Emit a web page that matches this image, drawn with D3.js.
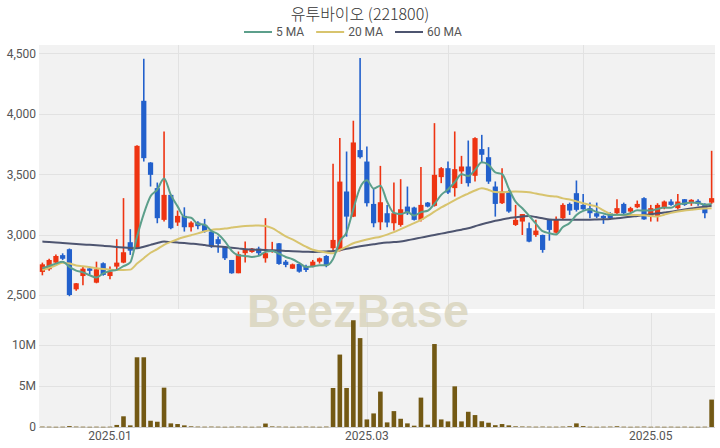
<!DOCTYPE html>
<html><head><meta charset="utf-8">
<script src="https://cdn.jsdelivr.net/npm/d3@7"></script>
<style>body{margin:0;background:#fff}svg{display:block}</style>
</head><body><svg id="c" width="720" height="448"></svg>
<script>
const title = "유투바이오 (221800)";
const dates = [
"2024-12-16","2024-12-17","2024-12-18","2024-12-19","2024-12-20","2024-12-23","2024-12-24","2024-12-26","2024-12-27","2024-12-30",
"2025-01-02","2025-01-03","2025-01-06","2025-01-07","2025-01-08","2025-01-09","2025-01-10","2025-01-13","2025-01-14","2025-01-15",
"2025-01-16","2025-01-17","2025-01-20","2025-01-21","2025-01-22","2025-01-23","2025-01-24","2025-01-31",
"2025-02-03","2025-02-04","2025-02-05","2025-02-06","2025-02-07","2025-02-10","2025-02-11","2025-02-12","2025-02-13","2025-02-14",
"2025-02-17","2025-02-18","2025-02-19","2025-02-20","2025-02-21","2025-02-24","2025-02-25","2025-02-26","2025-02-27","2025-02-28",
"2025-03-04","2025-03-05","2025-03-06","2025-03-07","2025-03-10","2025-03-11","2025-03-12","2025-03-13","2025-03-14","2025-03-17",
"2025-03-18","2025-03-19","2025-03-20","2025-03-21","2025-03-24","2025-03-25","2025-03-26","2025-03-27","2025-03-28","2025-03-31",
"2025-04-01","2025-04-02","2025-04-03","2025-04-04","2025-04-07","2025-04-08","2025-04-09","2025-04-10","2025-04-11","2025-04-14",
"2025-04-15","2025-04-16","2025-04-17","2025-04-18","2025-04-21","2025-04-22","2025-04-23","2025-04-24","2025-04-25","2025-04-28",
"2025-04-29","2025-04-30","2025-05-02","2025-05-07","2025-05-08","2025-05-09","2025-05-12","2025-05-13","2025-05-14","2025-05-15",
"2025-05-16","2025-05-19"];
const opens = [2691,2713,2768,2830,2879,2547,2657,2720,2602,2763,2657,2735,2768,2937,2887,4108,3597,3385,3122,3329,
3100,3155,3061,3100,3080,3025,2962,2900,2790,2680,2846,2856,2884,2804,2856,2928,2776,2718,2757,2740,
2740,2776,2823,2887,2867,3357,3149,3700,3605,3254,3102,3177,3094,3080,3232,3224,3122,3265,3238,3476,
3550,3385,3523,3564,3487,3708,3641,3398,3260,3357,3080,3108,3053,2997,2997,3122,3016,3136,3254,3343,
3246,3219,3177,3155,3177,3177,3254,3191,3226,3302,3149,3149,3219,3274,3219,3293,3260,3280,3254,3265];
const highs = [2768,2800,2835,2845,2885,2600,2735,2735,2776,2770,2735,2962,3302,3045,3740,4456,3600,3431,3854,3330,
3199,3226,3110,3110,3130,3030,2985,2905,2790,2860,2942,2890,2900,3136,2940,2930,2790,2760,2760,2750,
2790,2810,2830,3586,3799,3688,3943,4462,3729,3380,3569,3246,3431,3459,3398,3230,3559,3270,3923,3559,
3605,3854,3652,3779,3807,3826,3724,3440,3550,3370,3246,3170,3100,3122,3000,3125,3150,3260,3265,3448,
3337,3265,3265,3160,3185,3293,3265,3230,3282,3310,3246,3260,3282,3293,3337,3295,3293,3293,3260,3694];
const lows = [2663,2700,2760,2790,2490,2535,2580,2670,2597,2660,2630,2707,2763,2832,2880,3605,3398,3094,3108,3045,
3072,3025,3025,3045,3016,2890,2850,2790,2676,2680,2768,2850,2830,2768,2850,2750,2730,2715,2685,2690,
2730,2760,2730,2860,2860,2983,3145,3630,3232,3061,3039,3061,3033,3066,3163,3116,3108,3226,3232,3426,
3337,3315,3420,3398,3440,3592,3420,3149,3254,3182,3072,2997,2937,2983,2850,2950,3010,3130,3163,3191,
3205,3136,3136,3089,3122,3163,3163,3177,3219,3122,3108,3108,3210,3238,3210,3238,3238,3238,3136,3254];
const closes = [2754,2790,2823,2800,2500,2597,2718,2700,2713,2666,2693,2768,2854,2867,3735,3633,3495,3136,3329,3053,
3155,3061,3100,3070,3025,2900,2923,2804,2680,2837,2873,2884,2846,2846,2873,2757,2749,2754,2693,2707,
2776,2804,2749,2956,3439,3149,3763,3641,3260,3094,3268,3100,3177,3210,3177,3122,3246,3232,3495,3550,
3348,3542,3564,3426,3799,3661,3439,3254,3357,3191,3122,3170,2942,3033,2873,3039,3122,3246,3199,3205,
3210,3177,3149,3136,3136,3219,3177,3219,3254,3126,3219,3246,3274,3246,3274,3246,3288,3254,3177,3302];
const volumes = [50000,40000,30000,40000,110000,50000,40000,30000,40000,30000,40000,250000,1300000,200000,8470000,8470000,760000,640000,4780000,440000,
360000,200000,80000,50000,40000,50000,40000,30000,40000,50000,40000,30000,40000,420000,70000,50000,40000,30000,40000,50000,
40000,30000,50000,4740000,8800000,4740000,12970000,10800000,920000,1650000,4300000,560000,1930000,1000000,440000,160000,3570000,280000,10080000,920000,
680000,4940000,680000,1850000,1450000,700000,520000,220000,360000,200000,80000,60000,50000,40000,50000,40000,40000,50000,90000,440000,
110000,40000,30000,40000,50000,90000,40000,30000,40000,50000,30000,40000,30000,40000,30000,40000,30000,30000,40000,3330000];
const ma5Lead = [2721,2740,2760,2776];
const ma20 = [2707,2725,2745,2768,2760,2745,2738,2730,2722,2715,2710,2707,2707,2710,2760,2805,2850,2880,2915,2940,
2962,2980,2995,3010,3028,3039,3045,3050,3058,3066,3072,3074,3075,3072,3053,3020,2985,2960,2930,2900,
2875,2862,2852,2846,2873,2900,2928,2945,2960,2972,2983,3000,3020,3045,3070,3095,3122,3155,3190,3225,
3255,3285,3315,3340,3365,3384,3370,3352,3350,3355,3357,3355,3350,3340,3330,3320,3315,3300,3290,3275,
3260,3245,3232,3200,3172,3163,3163,3163,3163,3160,3155,3150,3165,3180,3191,3200,3206,3212,3216,3219];
const ma60 = [2942,2938,2935,2931,2927,2923,2919,2915,2911,2907,2903,2898,2893,2889,2887,2900,2915,2930,2942,2938,
2934,2930,2925,2920,2913,2906,2902,2897,2892,2886,2879,2877,2874,2872,2870,2868,2865,2862,2860,2858,
2856,2858,2861,2864,2872,2882,2893,2903,2912,2920,2928,2934,2938,2942,2953,2964,2975,2986,2997,3008,
3019,3030,3041,3053,3069,3086,3100,3114,3125,3136,3143,3150,3155,3145,3135,3125,3122,3122,3122,3122,
3123,3124,3125,3127,3130,3136,3141,3147,3155,3162,3169,3176,3183,3190,3199,3208,3216,3224,3231,3238];
const priceTicks = [2500,3000,3500,4000,4500];
const volumeTicks = [0,5000000,10000000];
const volumeTickLabels = ["0","5M","10M"];
const xTickDates = ["2025-01-02","2025-03-04","2025-05-02"];
const xTickLabels = ["2025.01","2025.03","2025.05"];
const legendLabels = ["5 MA","20 MA","60 MA"];

const ma5 = closes.map((c,i)=> i<4 ? ma5Lead[i] : d3.mean(closes.slice(i-4,i+1)));

const svg = d3.select("#c");
const xL=39, xR=715, pTop=45, pBot=309, vTop=313, vBot=428;
const C = {up:"#ee3412", down:"#2260cc", ma5:"#5c9f8b", ma20:"#d8c46e", ma60:"#4e5570", vol:"#735914", bg:"#f2f2f2", grid:"#e2e2e2"};
const font = "Roboto, 'Noto Sans', sans-serif";

const x = d3.scaleBand().domain(dates).range([xL,xR]);
const cx = d => x(d)+x.bandwidth()/2;
const yP = d3.scaleLinear().domain([2384,4570]).range([pBot,pTop]);
const yV = d3.scaleLinear().domain([0,13.85e6]).range([427,vTop]);

// backgrounds
svg.append("rect").attr("x",xL).attr("y",pTop).attr("width",xR-xL).attr("height",pBot-pTop).attr("fill",C.bg);
svg.append("rect").attr("x",xL).attr("y",vTop).attr("width",xR-xL).attr("height",vBot-vTop).attr("fill",C.bg);

// grids
const g = svg.append("g").attr("stroke",C.grid).attr("stroke-width",1);
priceTicks.forEach(t=> g.append("line").attr("x1",xL).attr("x2",xR).attr("y1",Math.round(yP(t))+0.5).attr("y2",Math.round(yP(t))+0.5));
dates.filter((d,i)=>i>0 && i%20===0).forEach(d=> g.append("line").attr("x1",Math.round(cx(d))+0.5).attr("x2",Math.round(cx(d))+0.5).attr("y1",pTop).attr("y2",pBot));
volumeTicks.forEach(t=> g.append("line").attr("x1",xL).attr("x2",xR).attr("y1",Math.round(yV(t))+0.5).attr("y2",Math.round(yV(t))+0.5).attr("stroke", t===0?"#d0d0d0":C.grid));
xTickDates.forEach(d=> g.append("line").attr("x1",Math.round(cx(d))+0.5).attr("x2",Math.round(cx(d))+0.5).attr("y1",vTop).attr("y2",vBot));

// watermark
svg.append("text").attr("x",358).attr("y",327).attr("text-anchor","middle")
  .attr("font-family","'Liberation Sans', Arial, sans-serif").attr("font-weight","bold").attr("font-size",47)
  .attr("fill","#d8d3bb").attr("opacity",0.8).text("BeezBase");

// volume bars
svg.append("g").selectAll("rect").data(dates).join("rect")
  .attr("x",d=>cx(d)-2.3).attr("width",4.6)
  .attr("y",(d,i)=>yV(volumes[i])).attr("height",(d,i)=>Math.max(0.6,yV(0)-yV(volumes[i])))
  .attr("fill",C.vol);

// candles
const cg = svg.append("g");
dates.forEach((d,i)=>{
  const up = closes[i]>=opens[i];
  const col = up?C.up:C.down;
  cg.append("line").attr("x1",cx(d)).attr("x2",cx(d)).attr("y1",yP(highs[i])).attr("y2",yP(lows[i])).attr("stroke",col).attr("stroke-width",1.6);
  const top = yP(Math.max(opens[i],closes[i])), bot = yP(Math.min(opens[i],closes[i]));
  cg.append("rect").attr("x",cx(d)-2.6).attr("width",5.2).attr("y",top).attr("height",Math.max(1.5,bot-top)).attr("fill",col);
});

// MA lines
const line = arr => d3.line().x((d,i)=>cx(dates[i])).y(d=>yP(d)).curve(d3.curveMonotoneX)(arr);
[[ma60,C.ma60],[ma20,C.ma20],[ma5,C.ma5]].forEach(([arr,col])=>{
  svg.append("path").attr("d",line(arr)).attr("fill","none").attr("stroke",col).attr("stroke-width",2);
});

// axes
const ay = svg.append("g").attr("transform",`translate(${xL},0)`)
  .call(d3.axisLeft(yP).tickValues(priceTicks).tickFormat(d3.format(",")).tickSize(0).tickPadding(3));
const av = svg.append("g").attr("transform",`translate(${xL},0)`)
  .call(d3.axisLeft(yV).tickValues(volumeTicks).tickFormat((d,i)=>volumeTickLabels[i]).tickSize(0).tickPadding(3));
const ax = svg.append("g").attr("transform",`translate(0,${vBot})`)
  .call(d3.axisBottom(x).tickValues(xTickDates).tickFormat((d,i)=>xTickLabels[i]).tickSize(0).tickPadding(3));
[ay,av,ax].forEach(a=>{ a.select(".domain").remove(); a.selectAll("text").attr("font-family",font).attr("font-size",12).attr("fill","#555"); });

// title
svg.append("text").attr("x",360).attr("y",20).attr("text-anchor","middle")
  .attr("font-family","'Noto Sans CJK KR', 'Noto Sans', sans-serif").attr("font-weight",300).attr("font-size",16).attr("fill","#333").text(title);

// legend
const lg = svg.append("g").attr("font-family",font).attr("font-size",12).attr("fill","#555");
const legCols = [C.ma5,C.ma20,C.ma60];
let lx = 244;
legendLabels.forEach((lab,i)=>{
  lg.append("line").attr("x1",lx).attr("x2",lx+28).attr("y1",32).attr("y2",32).attr("stroke",legCols[i]).attr("stroke-width",2);
  const t = lg.append("text").attr("x",lx+32).attr("y",36).text(lab);
  lx += 32 + t.node().getComputedTextLength() + 12;
});
</script></body></html>
